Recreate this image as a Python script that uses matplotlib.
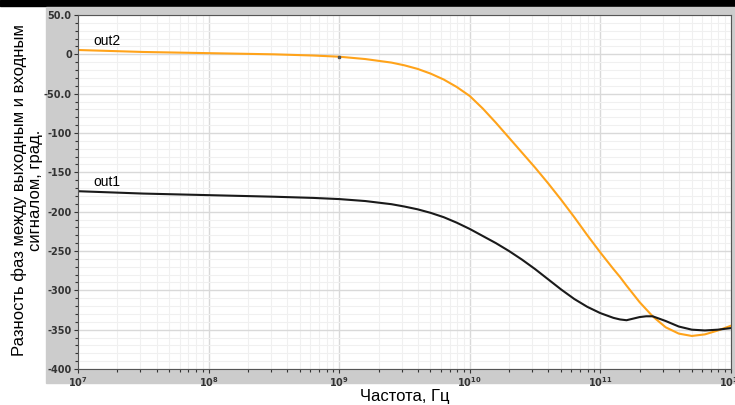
import numpy as np
import matplotlib.pyplot as plt
from matplotlib.patches import Rectangle
from matplotlib.ticker import LogLocator, MultipleLocator, FixedLocator

plt.rcParams['font.family'] = ['Liberation Sans', 'DejaVu Sans']

# Данные (log10 частоты, фаза в градусах)
lg_f = [7.0, 7.5, 8.0, 8.5, 8.8, 9.0, 9.2, 9.4, 9.5, 9.6, 9.7, 9.8, 9.9, 10.0, 10.1, 10.2,
        10.3, 10.4, 10.5, 10.6, 10.7, 10.8, 10.9, 11.0, 11.1, 11.15, 11.2, 11.3, 11.35, 11.4,
        11.5, 11.6, 11.7, 11.8, 11.9, 12.0]
out2 = [5.5, 3, 1.5, 0, -1.5, -3, -6, -10.5, -14, -18.5, -24.5, -32, -41.5, -53, -69, -87,
        -106, -125, -144, -164, -185, -207, -230, -252, -273, -283, -294, -315, -324, -333,
        -347, -355, -358, -356, -351, -345]
out1 = [-174, -177, -179, -181, -182.5, -184, -186.5, -190.5, -193.5, -197, -201.5, -207, -214, -222, -231, -240,
        -250, -261, -273, -286, -299, -311, -321, -329, -335, -337, -338, -334, -333, -333,
        -339, -346, -350, -351, -350, -348]
y_ticks = [50, 0, -50, -100, -150, -200, -250, -300, -350, -400]
y_labels = ['50.0', '0', '-50.0', '-100', '-150', '-200', '-250', '-300', '-350', '-400']

f = 10.0 ** np.array(lg_f)

fig = plt.figure(figsize=(7.35, 4.05), dpi=100)
# черная полоса сверху и серая подложка
fig.patches.append(Rectangle((0, 1 - 6/405), 1, 6/405, transform=fig.transFigure,
                             color='black', zorder=-10))
fig.patches.append(Rectangle((46/735, 1 - 383/405), 1, (383 - 7)/405,
                             transform=fig.transFigure, color='#cccccc', zorder=-10))

ax = fig.add_axes([78/735, 1 - 369/405, (731 - 78)/735, (369 - 15)/405])
ax.set_zorder(1)
ax.set_facecolor('white')

ax.plot(f, out2, color='#ffa31a', lw=1.5)
ax.plot(f, out1, color='#1a1a1a', lw=1.5)
ax.plot([1e9], [-3], marker='s', ms=2, color='#555555')

ax.text(1.3e7, 8, 'out2', fontsize=10, va='bottom')
ax.text(1.3e7, -171, 'out1', fontsize=10, va='bottom')

ax.set_xscale('log')
ax.set_xlim(1e7, 1e12)
ax.set_ylim(-400, 50)
ax.yaxis.set_major_locator(FixedLocator(y_ticks))
ax.set_yticklabels(y_labels)
ax.yaxis.set_minor_locator(MultipleLocator(10))
ax.xaxis.set_major_locator(LogLocator(base=10, numticks=10))
ax.xaxis.set_minor_locator(LogLocator(base=10, subs=np.arange(2, 10), numticks=100))

ax.grid(True, which='major', color='#d9d9d9', lw=1)
ax.grid(True, which='minor', color='#f0f0f0', lw=0.8)
ax.set_axisbelow(True)

for s in ax.spines.values():
    s.set_color('#555555')
ax.tick_params(which='both', colors='#333333', labelsize=7, length=3, width=0.8, pad=1.5)
ax.tick_params(which='minor', length=2)
for lab in ax.get_xticklabels() + ax.get_yticklabels():
    lab.set_fontweight('bold')
    lab.set_family('DejaVu Sans')

fig.text(405/735, 1 - 396/405, 'Частота, Гц', ha='center', va='center', fontsize=12)
fig.text(27/735, 1 - 190/405, 'Разность фаз между выходным и входным\nсигналом, град.',
         rotation=90, ha='center', va='center', fontsize=12, linespacing=1.1)

plt.savefig('out.png', dpi=100)
